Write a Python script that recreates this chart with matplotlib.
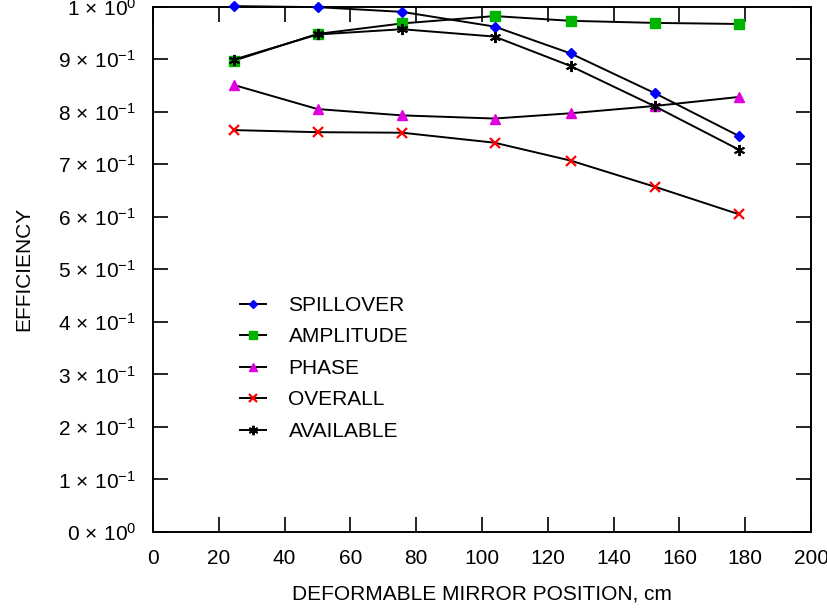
import numpy as np
import matplotlib
matplotlib.use("Agg")
from matplotlib import pyplot as plt

plt.rcParams['font.family'] = ['Liberation Sans', 'DejaVu Sans']
plt.rcParams['mathtext.fontset'] = 'custom'
plt.rcParams['mathtext.rm'] = 'Liberation Sans'
plt.rcParams['mathtext.it'] = 'Liberation Sans:italic'
plt.rcParams['mathtext.bf'] = 'Liberation Sans:bold'

# mirror position, cm
position = [24.5, 50, 75.7, 103.8, 126.9, 152.6, 178]

spillover = [1.001, 0.999, 0.990, 0.962, 0.911, 0.835, 0.754]
amplitude = [0.897, 0.948, 0.968, 0.982, 0.973, 0.969, 0.967]
phase = [0.851, 0.805, 0.793, 0.787, 0.797, 0.811, 0.828]
overall = [0.765, 0.761, 0.760, 0.741, 0.707, 0.657, 0.605]
available = [0.899, 0.947, 0.957, 0.943, 0.887, 0.810, 0.728]

series_names = ["SPILLOVER", "AMPLITUDE", "PHASE", "OVERALL", "AVAILABLE"]
y_ticks = [0.0, 0.1, 0.2, 0.3, 0.4, 0.5, 0.6, 0.7, 0.8, 0.9, 1.0]
y_tick_labels = [r'$0\,\times\,10^{0}$'] + \
    [r'$%d\,\times\,10^{-1}$' % k for k in range(1, 10)] + [r'$1\,\times\,10^{0}$']
x_ticks = [0, 20, 40, 60, 80, 100, 120, 140, 160, 180, 200]

styles = [
  dict(marker='D', color='#0000ff', ms=5),
  dict(marker='s', color='#00b400', ms=6.5),
  dict(marker='^', color='#e000e0', ms=6.5),
  dict(marker='x', color='#ff0000', ms=7, mew=1.6),
  dict(marker=(6, 2, 0), color='black', ms=8, mew=1.4),
]

fs = 15

fig = plt.figure(figsize=(8.28, 6.13), dpi=100)
ax = fig.add_axes([0.1848, 0.1321, 0.7947, 0.8571])

for name, values, st in zip(series_names, [spillover, amplitude, phase, overall, available], styles):
  ax.plot(position, values, color='black', lw=1.4, marker=st['marker'],
          markerfacecolor=st['color'], markeredgecolor=st['color'],
          markersize=st['ms'], markeredgewidth=st.get('mew', 1.0),
          label=name, clip_on=False, zorder=3)

ax.set_xlim(0, 200)
ax.set_ylim(0, 1)
ax.set_xticks(x_ticks)
ax.set_yticks(y_ticks)
ax.set_yticklabels(y_tick_labels)
ax.tick_params(direction='in', length=11, width=1.2, top=True, right=True,
               labelsize=fs, pad=12)
for sp in ax.spines.values():
  sp.set_linewidth(1.4)

ax.set_xlabel("DEFORMABLE MIRROR POSITION, cm", fontsize=fs, labelpad=12)
ax.set_ylabel("EFFICIENCY", fontsize=fs, labelpad=18)

ax.legend(loc='upper left', bbox_to_anchor=(0.103, 0.485), frameon=False,
          fontsize=fs, handlelength=1.25, handletextpad=1.1, labelspacing=0.6,
          markerscale=0.85)

fig.savefig("out.png", dpi=100)
